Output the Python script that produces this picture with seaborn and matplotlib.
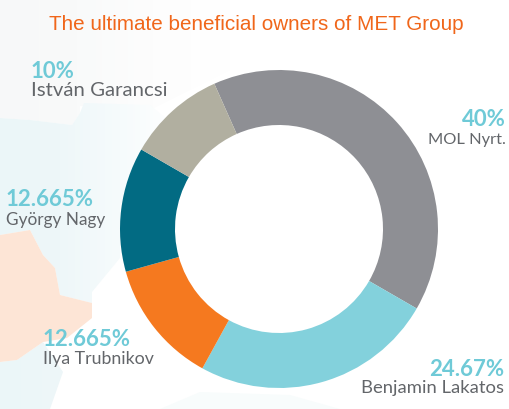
import matplotlib
matplotlib.use("Agg")
import matplotlib.pyplot as plt
from matplotlib.colors import LinearSegmentedColormap
from matplotlib.patches import Polygon
import numpy as np
import seaborn as sns

owners = ["MOL Nyrt.", "Benjamin Lakatos", "Ilya Trubnikov", "György Nagy", "István Garancsi"]
shares = [40, 24.67, 12.665, 12.665, 10]
share_labels = ["40%", "24.67%", "12.665%", "12.665%", "10%"]
ring_colors = ["#8e8f94", "#83d1dc", "#f5791f", "#026b83", "#b1afa0"]

W, H = 509, 409
sns.set_theme(style="white")
plt.rcParams["font.family"] = ["Lato", "DejaVu Sans"]

fig = plt.figure(figsize=(W / 100, H / 100), dpi=100, facecolor="white")
ax = fig.add_axes([0, 0, 1, 1])


def flip(points):
    return [(x, H - y) for x, y in points]


# pale map regions behind the ring, fading towards the ring
fade = np.linspace(0, 1, 256).reshape(1, -1)
sea = LinearSegmentedColormap.from_list("sea", ["#ebf6f8", "#eef7f9", "#f6fbfc", "#ffffff"])
land = LinearSegmentedColormap.from_list("land", ["#f7f8f9", "#f9fafa", "#fdfdfd", "#ffffff"])

faded_regions = [
    (land, 230, [(0, 0), (230, 0), (230, 70), (150, 110), (80, 106), (80, 113), (72, 125),
                 (30, 120), (0, 118)]),
    (sea, 180, [(0, 118), (30, 120), (72, 125), (80, 113), (84, 103), (150, 105), (180, 130),
                (120, 205), (120, 258), (92, 292), (92, 303), (60, 295), (55, 268), (43, 255),
                (30, 230), (0, 235)]),
    (sea, 190, [(0, 362), (17, 360), (43, 342), (63, 372), (50, 409), (0, 409)]),
]
for cmap, reach, pts in faded_regions:
    image = ax.imshow(fade, cmap=cmap, extent=(0, reach, 0, H), aspect="auto", zorder=0)
    patch = Polygon(flip(pts), closed=True, facecolor="none", edgecolor="none")
    ax.add_patch(patch)
    image.set_clip_path(patch)

ax.add_patch(Polygon(flip([(0, 235), (30, 230), (43, 255), (55, 268), (60, 295), (92, 303),
                           (92, 318), (67, 338), (43, 342), (17, 360), (0, 362)]),
                     closed=True, facecolor="#fde5d6", edgecolor="none", zorder=0.5))
ax.add_patch(Polygon(flip([(160, 409), (200, 392), (290, 395), (340, 409)]),
                     closed=True, facecolor="#f8fcfc", edgecolor="none", zorder=0.5))

# ownership ring, clockwise from the MOL wedge
ax.pie(
    shares,
    colors=ring_colors,
    center=(279, H - 229),
    radius=159,
    startangle=114,
    counterclock=False,
    wedgeprops={"width": 55, "linewidth": 0},
    frame=True,
)
ax.set_xlim(0, W)
ax.set_ylim(0, H)
ax.set_aspect("auto")
ax.set_xticks([])
ax.set_yticks([])
for spine in ax.spines.values():
    spine.set_visible(False)

ax.text(256.5, H - 25, "The ultimate beneficial owners of MET Group", color="#f0661a",
        fontsize=14.9, family="Liberation Sans", ha="center", va="center")

# label anchors per owner: x, percent line y, name line y, alignment
anchors = [(506, 120, 140, "right"), (504, 369, 388, "right"), (43, 339, 359, "left"),
           (6, 199, 220, "left"), (31, 71, 90, "left")]
name_sizes = [11.8, 13.3, 12.8, 12.4, 14.7]
for owner, label, size, (x, y1, y2, align) in zip(owners, share_labels, name_sizes, anchors):
    ax.text(x, H - y1, label, color="#6fcad7", fontsize=16, fontweight="bold", ha=align, va="center")
    ax.text(x, H - y2, owner, color="#63666a", fontsize=size, ha=align, va="center")

fig.savefig("out.png", dpi=100)
